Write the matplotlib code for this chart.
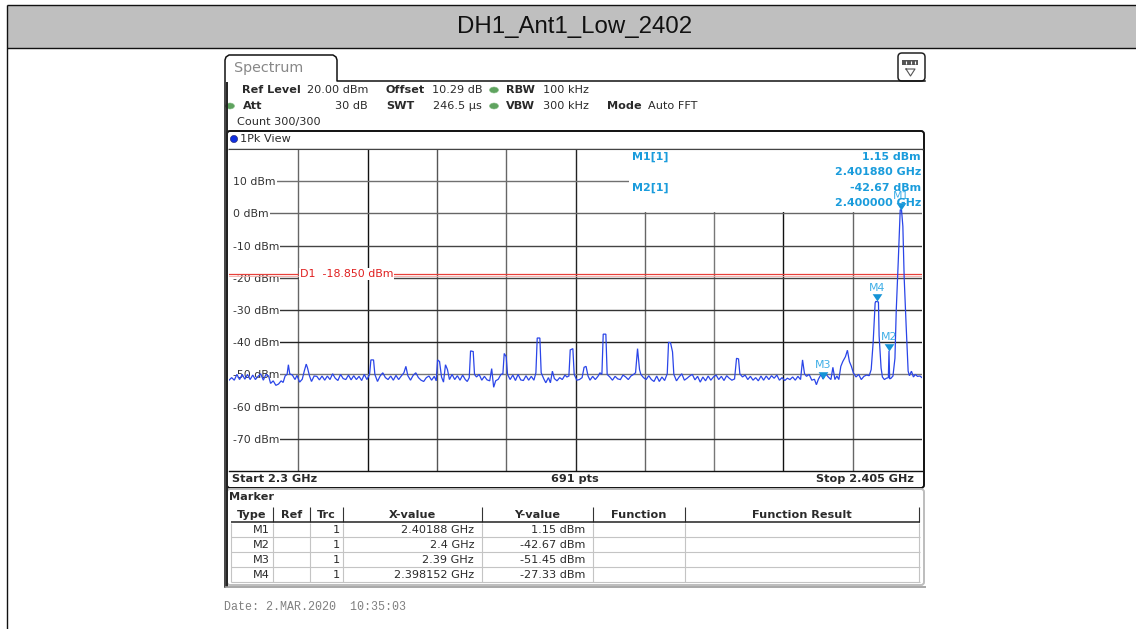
import matplotlib
matplotlib.use("Agg")
import matplotlib.pyplot as plt
from matplotlib.patches import FancyBboxPatch, Rectangle, Circle, Ellipse

# ---------- data ----------
title = "DH1_Ant1_Low_2402"
start_ghz, stop_ghz = 2.3, 2.405
ref_top, ref_bottom = 20, -80
level_ticks = [10, 0, -10, -20, -30, -40, -50, -60, -70]
level_labels = ["10 dBm", "0 dBm", "-10 dBm", "-20 dBm", "-30 dBm", "-40 dBm", "-50 dBm", "-60 dBm", "-70 dBm"]
level_colors = ["#707070", "#666666", "#444444", "#444444", "#333333", "#222222", "#777777", "#333333", "#333333"]
freq_grid = [2.3105, 2.321, 2.3315, 2.342, 2.3525, 2.363, 2.3735, 2.384, 2.3945]
freq_colors = ["#666666", "#111111", "#555555", "#666666", "#222222", "#666666", "#777777", "#111111", "#666666"]
d1_level = -18.85

trace_offset_mhz = [
    0.0, 0.4, 0.8, 1.2, 1.6, 2.0, 2.4, 2.8, 3.2, 3.6, 4.0, 4.4, 4.8, 5.2, 5.6, 6.0, 6.3, 6.7, 7.1, 7.5,
    7.9, 8.2, 8.5, 8.8, 9.0, 9.2, 9.6, 10.0, 10.3, 10.7, 11.1, 11.4, 11.7, 11.9, 12.2, 12.5, 12.9, 13.3, 13.7, 14.1,
    14.5, 14.9, 15.3, 15.7, 16.1, 16.5, 16.9, 17.3, 17.7, 18.1, 18.5, 18.9, 19.3, 19.7, 20.1, 20.5, 20.9, 21.3, 21.5, 21.9,
    22.1, 22.5, 22.9, 23.3, 23.7, 24.1, 24.5, 24.9, 25.3, 25.7, 26.1, 26.5, 26.8, 27.1, 27.5, 27.9, 28.3, 28.7, 29.1, 29.5,
    29.9, 30.3, 30.7, 31.1, 31.4, 31.6, 31.9, 32.2, 32.5, 32.8, 33.1, 33.4, 33.8, 34.2, 34.6, 35.0, 35.4, 35.8, 36.1, 36.4,
    36.6, 37.0, 37.2, 37.5, 37.9, 38.3, 38.7, 39.1, 39.5, 39.8, 40.1, 40.4, 40.8, 41.2, 41.5, 41.7, 42.0, 42.2, 42.6, 43.0,
    43.4, 43.8, 44.2, 44.6, 45.0, 45.4, 45.8, 46.2, 46.5, 46.7, 47.1, 47.3, 47.7, 48.0, 48.4, 48.7, 49.0, 49.3, 49.7, 50.1,
    50.5, 50.9, 51.2, 51.5, 51.7, 52.1, 52.3, 52.7, 53.1, 53.5, 53.8, 54.1, 54.4, 54.7, 55.1, 55.5, 55.9, 56.2, 56.5, 56.7,
    57.1, 57.3, 57.7, 58.1, 58.5, 58.9, 59.3, 59.7, 60.1, 60.5, 60.9, 61.3, 61.6, 61.9, 62.2, 62.4, 62.8, 63.2, 63.6, 64.0,
    64.4, 64.8, 65.2, 65.6, 66.0, 66.4, 66.6, 66.9, 67.2, 67.4, 67.8, 68.2, 68.6, 69.0, 69.4, 69.8, 70.2, 70.6, 71.0, 71.4,
    71.8, 72.2, 72.6, 73.0, 73.4, 73.8, 74.2, 74.6, 75.0, 75.4, 75.8, 76.2, 76.6, 76.9, 77.2, 77.4, 77.8, 78.2, 78.6, 79.0,
    79.4, 79.8, 80.2, 80.6, 81.0, 81.4, 81.8, 82.2, 82.6, 83.0, 83.4, 83.8, 84.2, 84.6, 85.0, 85.4, 85.8, 86.2, 86.6, 86.9,
    87.2, 87.5, 87.9, 88.3, 88.7, 89.0, 89.3, 89.7, 90.0, 90.4, 90.8, 91.2, 91.5, 91.8, 92.1, 92.4, 92.7, 93.0, 93.4, 93.7,
    94.0, 94.3, 94.6, 95.0, 95.4, 95.8, 96.2, 96.6, 97.0, 97.3, 97.6, 97.9, 98.0, 98.4, 98.5, 98.8, 99.0, 99.3, 99.6, 99.9,
    100.0, 100.1, 100.3, 100.6, 100.9, 101.1, 101.4, 101.7, 101.9, 102.1, 102.3, 102.6, 102.9, 103.1, 103.4, 103.7, 104.0, 104.3, 104.7, 105.0,
]
trace_dbm = [
    -51.8, -51, -51.8, -50, -51.6, -50, -51.5, -50, -51.6, -50.2, -51.6, -50.6, -49.8, -51.8, -50, -50.5, -52.8, -52, -53.4, -53,
    -52, -52.5, -50.5, -50, -47, -49.8, -50.2, -51.6, -50.3, -52.4, -51.5, -49, -46.8, -48, -50.5, -52.2, -50.5, -50.6, -51.7, -50.5,
    -51.8, -50.5, -51.6, -49.8, -51.2, -51.9, -50, -51.3, -51.6, -50.2, -51.7, -50.4, -51.6, -50.6, -51.9, -50, -51.6, -50, -45.5, -45.5,
    -50, -52.2, -50.5, -49.5, -51, -51.6, -50.5, -51.8, -50.3, -51.6, -50.5, -49.5, -47.5, -50.4, -51.8, -50.3, -49.5, -51, -51.8, -52.2,
    -51, -50.5, -51.8, -50.6, -52, -45.5, -46, -50.8, -52.4, -47, -48.5, -51.6, -50, -51.6, -50.4, -51.8, -50.2, -51.6, -52.2, -51,
    -42.7, -42.9, -50, -50.8, -50, -51.8, -50.6, -51.7, -52, -48.2, -54, -52, -51.5, -50, -49.8, -43.5, -44.5, -50, -51.6, -50.2,
    -51.9, -50, -51.7, -51.9, -50.4, -51.8, -50.6, -51.8, -49.5, -38.7, -38.7, -49.5, -51.4, -52.6, -51, -52.6, -49, -51.3, -52, -51,
    -51.6, -50.2, -50.8, -50.5, -42.4, -42, -50, -51.8, -51.6, -51, -47.8, -47.5, -50.5, -51.8, -50.6, -51.6, -50.6, -49.5, -50, -37.5,
    -37.5, -50, -50.8, -51.8, -50.6, -51.4, -51.6, -50.2, -50.8, -51.6, -50.5, -50, -49.5, -42, -48.5, -50, -51, -51.6, -50.4, -51.6,
    -52.2, -50.5, -52.2, -50.8, -51.9, -49.8, -40, -40.2, -43, -50, -52, -50.8, -49.8, -51.8, -51.2, -50.5, -50, -51.7, -50.6, -52.4,
    -50.8, -52, -50.5, -51.8, -50.8, -50.2, -51.6, -50.6, -51.9, -50.4, -51.2, -51.8, -51.4, -45, -45.2, -49.8, -50.8, -50.2, -51.6, -50.6,
    -51.8, -51, -52, -50.5, -51.8, -50.5, -51.6, -50.4, -51.2, -50.2, -51.8, -51, -51.9, -51.2, -51.6, -50.8, -51.8, -50.6, -51.6, -45.5,
    -49.8, -50.6, -50, -51.8, -51.5, -53.2, -51.5, -50, -51.45, -49.8, -50.8, -51.6, -47.8, -51.6, -50.5, -51.6, -47.5, -46, -44.5, -42.5,
    -46, -47.5, -49.5, -50.8, -50, -51.6, -50.6, -50.2, -50.4, -48.5, -40, -27.8, -27.33, -27.5, -38, -48, -50.8, -51.6, -51.2, -51,
    -42.67, -51.4, -51.2, -50.5, -45, -30, -15, 1.15, 1.0, -4, -20, -35, -49, -50.4, -49, -50.8, -50, -50.6, -50.5, -51,
]

marker_names = ["M1", "M2", "M3", "M4"]
marker_ghz = [2.40188, 2.4, 2.39, 2.398152]
marker_dbm = [1.15, -42.67, -51.45, -27.33]

table_columns = ["Type", "Ref", "Trc", "X-value", "Y-value", "Function", "Function Result"]
table_types = ["M1", "M2", "M3", "M4"]
table_trc = ["1", "1", "1", "1"]
table_x = ["2.40188 GHz", "2.4 GHz", "2.39 GHz", "2.398152 GHz"]
table_y = ["1.15 dBm", "-42.67 dBm", "-51.45 dBm", "-27.33 dBm"]

# ---------- figure ----------
W, H = 1136, 629
fig = plt.figure(figsize=(W / 100, H / 100), dpi=100, facecolor="white")
plt.rcParams["font.family"] = "DejaVu Sans"

def pixel_axes(z):
    a = fig.add_axes([0, 0, 1, 1], zorder=z)
    a.set_xlim(0, W)
    a.set_ylim(H, 0)
    a.axis("off")
    a.patch.set_alpha(0)
    return a

bg = pixel_axes(0)
fg = pixel_axes(3)

def hline(a, x0, x1, y, c="#111111", lw=0.8):
    a.plot([x0, x1], [y, y], color=c, lw=lw, solid_capstyle="butt")

def vline(a, x, y0, y1, c="#111111", lw=0.8):
    a.plot([x, x], [y0, y1], color=c, lw=lw, solid_capstyle="butt")

def label(a, x, y, s, bold=False, ha="left", c="#2a2a2a", size=8.1, **kw):
    a.text(x, y, s, ha=ha, va="center", color=c, fontsize=size,
           fontweight="bold" if bold else "normal", **kw)

# page frame and title
bg.add_patch(Rectangle((7, 5), W - 7, 43, fc="#BFBFBF", ec="none"))
hline(bg, 7, W, 5, "#111111", 1.0)
hline(bg, 7, W, 48, "#111111", 1.0)
vline(bg, 7, 5, H, "#111111", 1.0)
bg.text(575, 26.5, title, ha="center", va="center", fontsize=17.3, family="Liberation Sans", color="#111111")

# instrument tab
bg.plot([225, 225, 226, 229, 333, 336, 337, 337, 925], [587, 60, 57, 55, 55, 57, 60, 81, 81], color="#111111", lw=1.1)
vline(bg, 226.5, 82, 587, "#222222", 1.4)
hline(bg, 225, 926, 586.5, "#999999", 1.2)
label(bg, 234, 68, "Spectrum", c="#888888", size=10.3)

# menu icon
bg.add_patch(FancyBboxPatch((900, 55), 23, 24, boxstyle="round,pad=2,rounding_size=4", fc="white", ec="#222222", lw=1.1))
bg.add_patch(Rectangle((902, 60), 16, 5, fc="#555555", ec="none"))
for xp in (906, 911, 915):
    vline(bg, xp, 61, 64, "white", 0.8)
bg.plot([906, 915, 910.5, 906], [69, 69, 76, 69], color="#555555", lw=0.8)

# header
def led(x, y):
    bg.add_patch(Ellipse((x, y), 9, 6, fc="#5FA35F", ec="#8BC08B", lw=0.4))

row1, row2 = 90, 106
label(bg, 242, row1, "Ref Level", True)
label(bg, 368, row1, "20.00 dBm", ha="right")
label(bg, 386, row1, "Offset", True)
label(bg, 482, row1, "10.29 dB", ha="right")
led(494, row1)
label(bg, 506, row1, "RBW", True)
label(bg, 543, row1, "100 kHz")
led(230, row2)
label(bg, 243, row2, "Att", True)
label(bg, 368, row2, "30 dB", ha="right")
label(bg, 386, row2, "SWT", True)
label(bg, 482, row2, "246.5 µs", ha="right")
led(494, row2)
label(bg, 506, row2, "VBW", True)
label(bg, 543, row2, "300 kHz")
label(bg, 607, row2, "Mode", True)
label(bg, 648, row2, "Auto FFT")
label(bg, 237, 122, "Count 300/300")

# plot frame
bg.add_patch(FancyBboxPatch((229, 133), 693, 353, boxstyle="round,pad=2,rounding_size=3", fc="white", ec="#111111", lw=1.4))
hline(bg, 228, 923, 148.5, "#555555", 1.0)
bg.add_patch(Circle((234, 139), 3.6, fc="#1030E0", ec="#222266", lw=0.4))
label(bg, 240, 139, "1Pk View")

# diagram axes
ax = fig.add_axes([229 / W, 1 - 471 / H, 693 / W, 322 / H], zorder=1)
ax.set_xlim(start_ghz, stop_ghz)
ax.set_ylim(ref_bottom, ref_top)
ax.set_axisbelow(True)
for s in ax.spines.values():
    s.set_visible(False)
ax.spines["top"].set_visible(True)
ax.spines["top"].set_color("#444444")
ax.spines["top"].set_linewidth(0.8)
ax.spines["bottom"].set_visible(True)
ax.spines["bottom"].set_color("#111111")
ax.spines["bottom"].set_linewidth(1.0)
ax.set_xticks(freq_grid, [""] * len(freq_grid))
ax.tick_params(axis="x", length=0)
ax.set_yticks(level_ticks, level_labels)
ax.tick_params(axis="y", length=0, pad=-3.0, labelsize=7.8, labelcolor="#333333")
for t in ax.get_yticklabels():
    t.set_ha("left")
    t.set_bbox(dict(fc="white", ec="none", pad=0.6))
ax.grid(True, lw=1.0)
for gl, c in zip(ax.get_xgridlines(), freq_colors):
    gl.set_color(c)
for gl, c in zip(ax.get_ygridlines(), level_colors):
    gl.set_color(c)

# grid does not reach the left edge, and the marker readout area hides it
ax.add_patch(Rectangle((0, 0), 4 / 693, 1, transform=ax.transAxes, fc="white", ec="none", zorder=1))
ax.add_patch(Rectangle((0.5775, 0.8055), 0.4225, 0.192, transform=ax.transAxes, fc="white", ec="none", zorder=1))

ax.axhline(d1_level, color="#E8403A", lw=0.9, zorder=1.5)
ax.axhline(d1_level - 0.5, color="#F2A8A4", lw=0.6, zorder=1.4)
ax.text(0.102, d1_level, "D1  -18.850 dBm", transform=ax.get_yaxis_transform(), color="#E02020", fontsize=7.9,
        ha="left", va="center", zorder=1.6, bbox=dict(fc="white", ec="none", pad=0.8))

trace_ghz = [start_ghz + m / 1000 for m in trace_offset_mhz]
ax.plot(trace_ghz, trace_dbm, color="#2A45E8", lw=0.9, zorder=2, solid_joinstyle="miter")

ax.plot(marker_ghz, marker_dbm, ls="none", marker=[(-1, 1.5), (1, 1.5), (0, 0)], ms=10.5, color="#1593D6", mew=0, zorder=3)
for n, xv, yv in zip(marker_names, marker_ghz, marker_dbm):
    ax.annotate(n, (xv, yv), xytext=(0, 10), textcoords="offset points", ha="center", va="center",
                fontsize=7.9, color="#3FAEE6", zorder=3)

# readout text
blue = "#1A9CDC"
readout_y = [157, 172, 188, 203]
fg.text(632, readout_y[0], "M1[1]", color=blue, fontsize=7.9, fontweight="bold", va="center")
fg.text(632, readout_y[2], "M2[1]", color=blue, fontsize=7.9, fontweight="bold", va="center")
for yy, s in zip(readout_y, ["1.15 dBm", "2.401880 GHz", "-42.67 dBm", "2.400000 GHz"]):
    fg.text(921, yy, s, color=blue, fontsize=7.9, fontweight="bold", va="center", ha="right")

# footer of diagram
label(bg, 232, 479, "Start 2.3 GHz", True)
label(bg, 575, 479, "691 pts", True, ha="center")
label(bg, 914, 479, "Stop 2.405 GHz", True, ha="right")

# marker panel
bg.add_patch(FancyBboxPatch((229, 491), 693, 92, boxstyle="round,pad=2,rounding_size=3", fc="white", ec="#BDBDBD", lw=1.4))
label(bg, 229, 497, "Marker", True)
col_edges = [231, 273, 310, 343, 482, 593, 685, 919]
for xp in col_edges[1:]:
    vline(bg, xp, 507, 522, "#333333", 0.8)
hline(bg, 231, 920, 522, "#222222", 1.1)
for yy in (537, 552, 567, 582):
    hline(bg, 231, 920, yy, "#C4C4C4", 0.8)
for xp in col_edges:
    vline(bg, xp, 523, 582, "#C4C4C4", 0.8)
for i, head in enumerate(table_columns):
    label(bg, (col_edges[i] + col_edges[i + 1]) / 2, 514.5, head, True, ha="center")
row_y = [530, 545, 560, 575]
for i, yy in enumerate(row_y):
    label(bg, 270, yy, table_types[i], ha="right")
    label(bg, 340, yy, table_trc[i], ha="right")
    label(bg, 474, yy, table_x[i], ha="right")
    label(bg, 585, yy, table_y[i], ha="right")

bg.text(224, 607, "Date: 2.MAR.2020  10:35:03", family="Liberation Mono", fontsize=8.4, color="#808080", va="center")

fig.savefig("out.png", dpi=100, facecolor="white")
